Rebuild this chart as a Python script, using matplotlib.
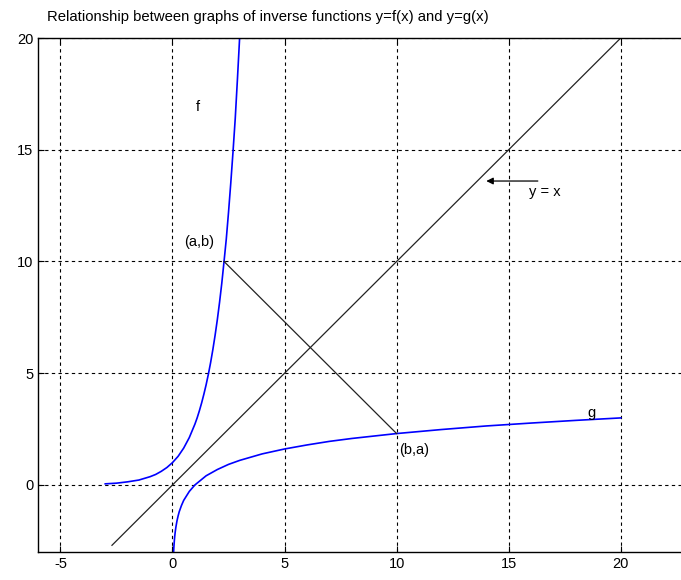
import matplotlib.pyplot as plt

plt.rcParams['font.family'] = ['Liberation Sans', 'DejaVu Sans']
plt.rcParams['axes.unicode_minus'] = False

# f(x)
f_x = [-3.0, -2.5, -2.0, -1.5, -1.0, -0.75, -0.5, -0.25, 0.0, 0.25, 0.5, 0.75, 1.0, 1.1,
       1.2, 1.3, 1.4, 1.5, 1.6, 1.7, 1.8, 1.9, 2.0, 2.1, 2.2, 2.3, 2.4, 2.5, 2.6, 2.7,
       2.8, 2.9, 3.0]
f_y = [0.05, 0.08, 0.14, 0.22, 0.37, 0.47, 0.61, 0.78, 1.0, 1.28, 1.65, 2.12, 2.72, 3.0,
       3.32, 3.67, 4.06, 4.48, 4.95, 5.47, 6.05, 6.69, 7.39, 8.17, 9.03, 10.0, 11.0, 12.2,
       13.5, 14.9, 16.4, 18.2, 20.1]

# g(x)
g_x = [0.05, 0.06, 0.08, 0.1, 0.12, 0.15, 0.2, 0.25, 0.3, 0.4, 0.5, 0.75, 1.0, 1.5, 2.0,
       2.5, 3.0, 4.0, 5.0, 6.0, 7.0, 8.0, 10.0, 12.0, 14.0, 16.0, 18.0, 20.0]
g_y = [-3.0, -2.81, -2.53, -2.3, -2.12, -1.9, -1.61, -1.39, -1.2, -0.92, -0.69, -0.29,
       0.0, 0.41, 0.69, 0.92, 1.1, 1.39, 1.61, 1.79, 1.95, 2.08, 2.3, 2.48, 2.64, 2.77,
       2.89, 3.0]

# y = x line ends
yx_x = [-2.7, 20.0]
yx_y = [-2.7, 20.0]

# segment between (a,b) and (b,a)
seg_x = [2.3, 10.0]
seg_y = [10.0, 2.3]

xticks = [-5, 0, 5, 10, 15, 20]
yticks = [0, 5, 10, 15, 20]

fig = plt.figure(figsize=(6.81, 5.8), dpi=100)
ax = fig.add_axes([38 / 681, 28 / 580, 650 / 681, 514 / 580])

ax.plot(f_x, f_y, color='blue', lw=1.2)
ax.plot(g_x, g_y, color='blue', lw=1.2)
ax.plot(yx_x, yx_y, color='#222222', lw=0.9)
ax.plot(seg_x, seg_y, color='#222222', lw=0.9)

ax.annotate('', xy=(14.0, 13.6), xytext=(16.3, 13.6),
            arrowprops=dict(arrowstyle='-|>', color='black', lw=0.9,
                            mutation_scale=10, shrinkA=0, shrinkB=0))

ax.text(15.9, 13.1, 'y = x', fontsize=10.5, va='center', ha='left')
ax.text(1.05, 16.9, 'f', fontsize=10.5, va='center', ha='left')
ax.text(0.5, 10.85, '(a,b)', fontsize=10.5, va='center', ha='left')
ax.text(10.1, 1.55, '(b,a)', fontsize=10.5, va='center', ha='left')
ax.text(18.5, 3.2, 'g', fontsize=10.5, va='center', ha='left')

ax.set_xlim(-6, 23)
ax.set_ylim(-3, 20)
ax.set_xticks(xticks)
ax.set_yticks(yticks)
ax.grid(True, color='black', linestyle=(0, (3, 3)), lw=0.8)
ax.tick_params(direction='in', top=True, right=True, length=4, labelsize=10.5)
ax.spines['right'].set_visible(False)
for s in ['left', 'top', 'bottom']:
    ax.spines[s].set_linewidth(1.0)

fig.text(268 / 681, 1 - 17 / 580, 'Relationship between graphs of inverse functions y=f(x) and y=g(x)',
         ha='center', va='center', fontsize=10.7)

fig.savefig('out.png', dpi=100)
